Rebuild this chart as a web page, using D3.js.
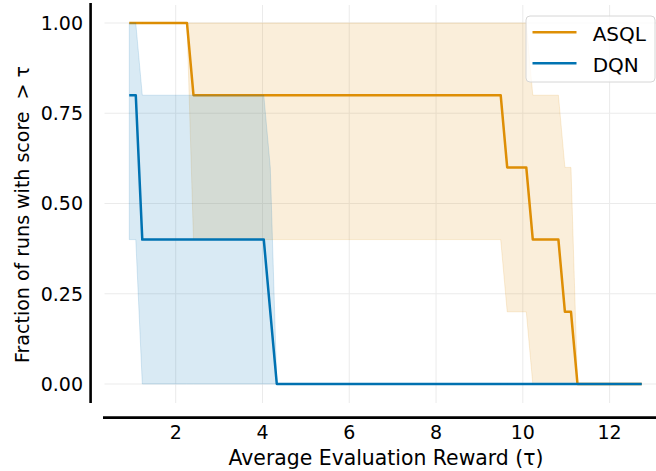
<!DOCTYPE html>
<html>
<head>
<meta charset="utf-8">
<script src="https://cdn.jsdelivr.net/npm/d3@7"></script>
<style>
  html, body { margin: 0; padding: 0; background: #fff; }
  svg { display: block; }
  text { font-family: "DejaVu Sans", sans-serif; fill: #000; }
</style>
</head>
<body>
<svg id="chart" width="656" height="471"></svg>
<script>
// Thresholds (tau) where the step curves change
const tau      = [0.93, 1.08, 1.23, 2.26, 2.41, 4.03, 4.18, 4.33, 9.49, 9.64, 10.08, 10.23, 10.82, 10.97, 11.11, 11.26, 12.74];
// ASQL: fraction of runs, lower / upper confidence band
const asql     = [1.0, 1.0, 1.0, 1.0, 0.8, 0.8, 0.8, 0.8, 0.8, 0.6, 0.6, 0.4, 0.4, 0.2, 0.2, 0.0, 0.0];
const asqlLow  = [1.0, 1.0, 1.0, 1.0, 0.4, 0.4, 0.4, 0.4, 0.4, 0.2, 0.2, 0.0, 0.0, 0.0, 0.0, 0.0, 0.0];
const asqlHigh = [1.0, 1.0, 1.0, 1.0, 1.0, 1.0, 1.0, 1.0, 1.0, 1.0, 1.0, 0.8, 0.8, 0.6, 0.6, 0.0, 0.0];
// DQN
const dqn      = [0.8, 0.8, 0.4, 0.4, 0.4, 0.4, 0.2, 0.0, 0.0, 0.0, 0.0, 0.0, 0.0, 0.0, 0.0, 0.0, 0.0];
const dqnLow   = [0.4, 0.4, 0.0, 0.0, 0.0, 0.0, 0.0, 0.0, 0.0, 0.0, 0.0, 0.0, 0.0, 0.0, 0.0, 0.0, 0.0];
const dqnHigh  = [1.0, 1.0, 0.8, 0.8, 0.8, 0.8, 0.6, 0.0, 0.0, 0.0, 0.0, 0.0, 0.0, 0.0, 0.0, 0.0, 0.0];

const xTicks = [2, 4, 6, 8, 10, 12];
const yTicks = [0, 0.25, 0.5, 0.75, 1.0];
const seriesNames = ["ASQL", "DQN"];
const colors = ["#de8f05", "#0173b2"];

const svg = d3.select("#chart");
const x = d3.scaleLinear().domain([2, 12]).range([175.7, 609.6]);
const y = d3.scaleLinear().domain([0, 1]).range([384, 23]);

const plotLeft = 104.5, plotRight = 668, plotTop = 5, plotBottom = 403;

// gridlines
const grid = svg.append("g");
grid.selectAll("line.vx").data(xTicks).join("line")
  .attr("x1", d => x(d)).attr("x2", d => x(d))
  .attr("y1", plotTop).attr("y2", plotBottom)
  .attr("stroke", "#ebebeb").attr("stroke-width", 1);
grid.selectAll("line.hy").data(yTicks).join("line")
  .attr("x1", plotLeft).attr("x2", plotRight)
  .attr("y1", d => y(d)).attr("y2", d => y(d))
  .attr("stroke", "#ebebeb").attr("stroke-width", 1);

const series = [
  { name: seriesNames[0], mean: asql, lo: asqlLow, hi: asqlHigh, color: colors[0] },
  { name: seriesNames[1], mean: dqn,  lo: dqnLow,  hi: dqnHigh,  color: colors[1] }
];

const line = d3.line().x(d => x(d[0])).y(d => y(d[1]));
const area = d3.area().x(d => x(d[0])).y0(d => y(d[1])).y1(d => y(d[2]));

series.forEach(s => {
  const pts = tau.map((t, i) => [t, s.mean[i]]);
  const band = tau.map((t, i) => [t, s.lo[i], s.hi[i]]);
  svg.append("path").datum(pts).attr("d", line)
    .attr("fill", "none").attr("stroke", s.color).attr("stroke-width", 2.5)
    .attr("stroke-linejoin", "round");
  svg.append("path").datum(band).attr("d", area)
    .attr("fill", s.color).attr("fill-opacity", 0.15)
    .attr("stroke", s.color).attr("stroke-opacity", 0.15).attr("stroke-width", 1);
});

// spines
svg.append("line").attr("x1", 90.6).attr("x2", 90.6).attr("y1", 3).attr("y2", 403)
  .attr("stroke", "#000").attr("stroke-width", 2.6);
svg.append("line").attr("x1", 103).attr("x2", 656).attr("y1", 417.6).attr("y2", 417.6)
  .attr("stroke", "#000").attr("stroke-width", 2.6);

// tick labels
svg.append("g").selectAll("text").data(yTicks).join("text")
  .attr("x", 83).attr("y", d => y(d)).attr("dy", "0.36em")
  .attr("text-anchor", "end").style("font-size", "19px")
  .text(d => d3.format(".2f")(d));
svg.append("g").selectAll("text").data(xTicks).join("text")
  .attr("x", d => x(d)).attr("y", 439)
  .attr("text-anchor", "middle").style("font-size", "19px")
  .text(d => d);

// axis labels
svg.append("text").attr("x", 386).attr("y", 465)
  .attr("text-anchor", "middle").style("font-size", "20.4px")
  .text("Average Evaluation Reward (τ)");
svg.append("text").attr("transform", "translate(29,363) rotate(-90)")
  .attr("text-anchor", "start").style("font-size", "19px")
  .style("white-space", "pre")
  .text("Fraction of runs with score  > τ");

// legend
const lg = svg.append("g");
lg.append("rect").attr("x", 526).attr("y", 16).attr("width", 129).attr("height", 66)
  .attr("rx", 4).attr("fill", "#fff").attr("fill-opacity", 0.8)
  .attr("stroke", "#d6d6d6").attr("stroke-width", 1);
series.forEach((s, i) => {
  const ly = 32.3 + i * 31;
  lg.append("line").attr("x1", 532.5).attr("x2", 576.5).attr("y1", ly).attr("y2", ly)
    .attr("stroke", s.color).attr("stroke-width", 2.5);
  lg.append("text").attr("x", 592.7).attr("y", ly + 8.2)
    .style("font-size", "20px").text(s.name);
});
</script>
</body>
</html>
